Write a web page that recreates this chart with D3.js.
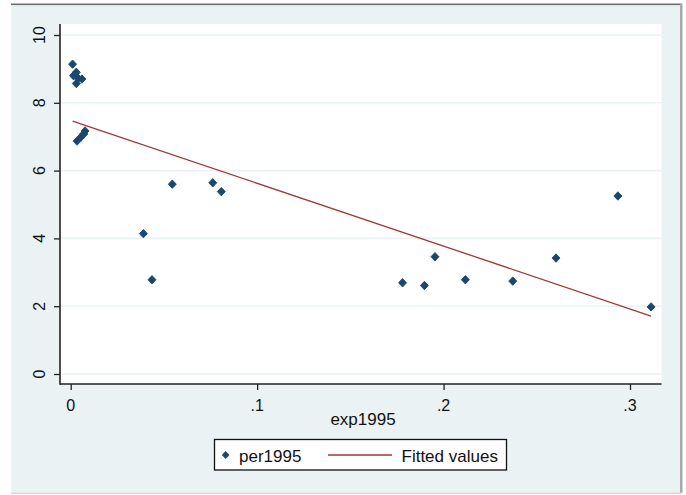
<!DOCTYPE html>
<html>
<head>
<meta charset="utf-8">
<script src="https://cdn.jsdelivr.net/npm/d3@7"></script>
<style>
  html, body { margin: 0; padding: 0; background: #fff; }
  svg { display: block; font-family: "Liberation Sans", Arial, sans-serif; }
  .tick-label { font-size: 16px; fill: #111; }
  .axis-title { font-size: 17px; fill: #111; }
  .legend-text { font-size: 17px; fill: #111; }
</style>
</head>
<body>
<div id="chart"></div>
<script>
// values
const exp1995 = [0.001, 0.0015, 0.003, 0.004, 0.006, 0.003,
  0.0034, 0.0055, 0.007, 0.0077,
  0.039, 0.0436, 0.0545, 0.0762, 0.0808,
  0.178, 0.1897, 0.1954, 0.2117, 0.2371, 0.2603, 0.2935, 0.3113];
const per1995 = [9.14, 8.80, 8.90, 8.72, 8.70, 8.57,
  6.87, 6.99, 7.08, 7.17,
  4.14, 2.78, 5.60, 5.64, 5.38,
  2.69, 2.61, 3.46, 2.78, 2.74, 3.42, 5.25, 1.98];
// fitted values line, endpoints
const fitX = [0.001, 0.3113];
const fitY = [7.46, 1.71];

const xTicks = [0, 0.1, 0.2, 0.3];
const xTickLabels = ['0', '.1', '.2', '.3'];
const yTicks = [0, 2, 4, 6, 8, 10];
const legendLabels = ['per1995', 'Fitted values'];

const W = 686, H = 495;
const bg = '#eaf2f3';
const navy = '#1a476f';
const maroon = '#a0363c';

const plot = { left: 60, right: 661.5, top: 24, bottom: 384 };

const x = d3.scaleLinear().domain([0, 0.3]).range([70.7, 630]);
const y = d3.scaleLinear().domain([0, 10]).range([374, 35]);

const svg = d3.select('#chart').append('svg')
  .attr('width', W).attr('height', H);

// outer frame
svg.append('rect').attr('x', 11).attr('y', 5).attr('width', 670).attr('height', 488).attr('fill', bg);
svg.append('rect').attr('x', 11).attr('y', 3.5).attr('width', 671).attr('height', 1.6).attr('fill', '#6f6f6f');
svg.append('rect').attr('x', 680).attr('y', 4).attr('width', 2.5).attr('height', 489).attr('fill', '#a9a9a9');
svg.append('rect').attr('x', 11).attr('y', 492.5).attr('width', 671).attr('height', 1.5).attr('fill', '#d9d9d9');

// plot region
svg.append('rect')
  .attr('x', plot.left).attr('y', plot.top)
  .attr('width', plot.right - plot.left).attr('height', plot.bottom - plot.top)
  .attr('fill', '#fff');

// gridlines
svg.append('g')
  .selectAll('line')
  .data(yTicks)
  .join('line')
  .attr('x1', plot.left).attr('x2', plot.right)
  .attr('y1', (d) => y(d)).attr('y2', (d) => y(d))
  .attr('stroke', bg).attr('stroke-width', 1.6);

// y axis
const yAxis = svg.append('g')
  .attr('transform', `translate(${plot.left},0)`)
  .call(d3.axisLeft(y).tickValues(yTicks).tickSize(6).tickSizeOuter(0).tickFormat(''));
yAxis.select('.domain').remove();
yAxis.selectAll('.tick line').attr('stroke', '#222').attr('stroke-width', 1.3);
svg.append('line')
  .attr('x1', plot.left).attr('x2', plot.left)
  .attr('y1', plot.top).attr('y2', plot.bottom + 0.8)
  .attr('stroke', '#222').attr('stroke-width', 1.6);

svg.append('g')
  .selectAll('text')
  .data(yTicks)
  .join('text')
  .attr('class', 'tick-label')
  .attr('text-anchor', 'middle')
  .attr('transform', (d) => `translate(45,${y(d)}) rotate(-90)`)
  .text((d) => d);

// x axis
const xAxis = svg.append('g')
  .attr('transform', `translate(0,${plot.bottom})`)
  .call(d3.axisBottom(x).tickValues(xTicks).tickSize(6).tickSizeOuter(0).tickFormat(''));
xAxis.select('.domain').remove();
xAxis.selectAll('.tick line').attr('stroke', '#222').attr('stroke-width', 1.3);
svg.append('line')
  .attr('x1', plot.left).attr('x2', plot.right)
  .attr('y1', plot.bottom).attr('y2', plot.bottom)
  .attr('stroke', '#222').attr('stroke-width', 1.6);

svg.append('g')
  .selectAll('text')
  .data(xTicks)
  .join('text')
  .attr('class', 'tick-label')
  .attr('text-anchor', 'middle')
  .attr('x', (d) => x(d))
  .attr('y', 411)
  .text((d, i) => xTickLabels[i]);

svg.append('text')
  .attr('class', 'axis-title')
  .attr('text-anchor', 'middle')
  .attr('x', 363).attr('y', 425)
  .text('exp1995');

// fitted line
const fit = fitX.map((v, i) => [v, fitY[i]]);
svg.append('path')
  .datum(fit)
  .attr('d', d3.line().x((d) => x(d[0])).y((d) => y(d[1])))
  .attr('fill', 'none')
  .attr('stroke', maroon)
  .attr('stroke-width', 1.3);

// markers
const diamond = 'M0,-4.2L4,0L0,4.2L-4,0Z';
svg.append('g')
  .selectAll('path')
  .data(exp1995.map((v, i) => [v, per1995[i]]))
  .join('path')
  .attr('d', diamond)
  .attr('transform', (d) => `translate(${x(d[0])},${y(d[1])})`)
  .attr('fill', navy)
  .attr('stroke', navy)
  .attr('stroke-width', 0.9)
  .attr('stroke-linejoin', 'round');

// legend
const legend = svg.append('g');
legend.append('rect')
  .attr('x', 214.5).attr('y', 439.5).attr('width', 292).attr('height', 30.5)
  .attr('fill', '#fff').attr('stroke', '#111').attr('stroke-width', 1.3);
legend.append('path')
  .attr('d', 'M0,-3.6L3.4,0L0,3.6L-3.4,0Z')
  .attr('transform', 'translate(225.7,455)')
  .attr('fill', navy)
  .attr('stroke', navy)
  .attr('stroke-width', 0.8);
legend.append('text').attr('class', 'legend-text').attr('x', 239).attr('y', 461.5).text(legendLabels[0]);
legend.append('line')
  .attr('x1', 328).attr('x2', 392).attr('y1', 455).attr('y2', 455)
  .attr('stroke', maroon).attr('stroke-width', 1.3);
legend.append('text').attr('class', 'legend-text').attr('x', 401.5).attr('y', 461.5).text(legendLabels[1]);
</script>
</body>
</html>
